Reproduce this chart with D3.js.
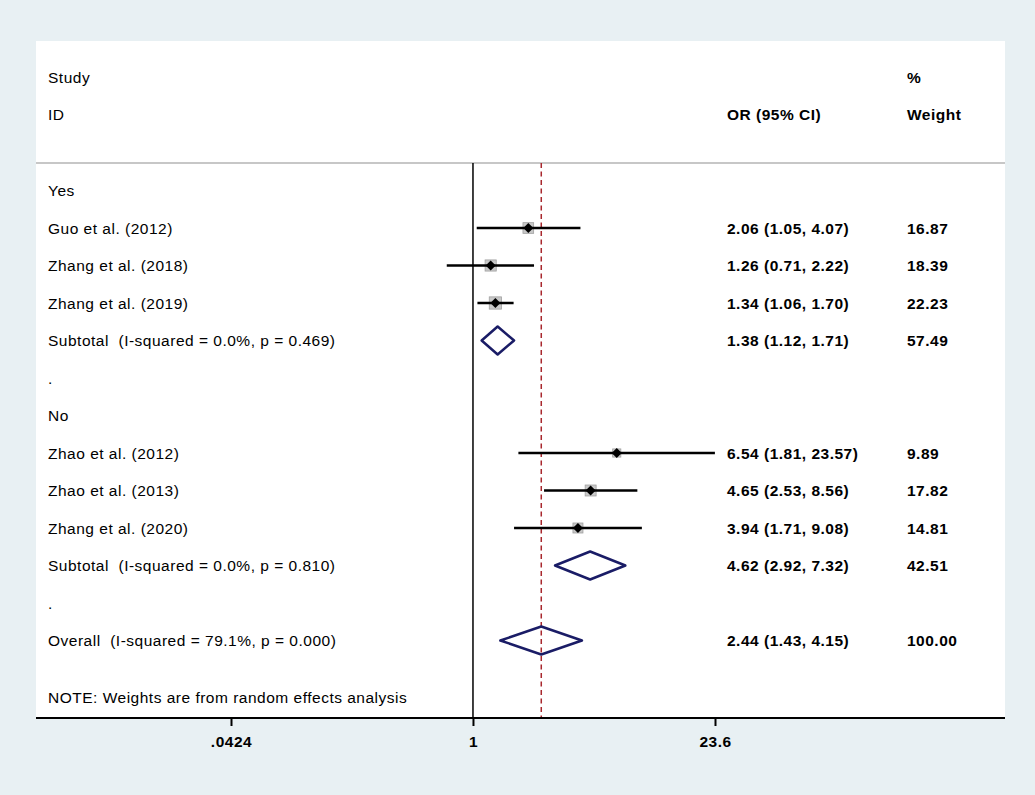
<!DOCTYPE html>
<html><head><meta charset="utf-8">
<script src="https://cdn.jsdelivr.net/npm/d3@7"></script>
<style>body{margin:0;background:#e8f0f3;}svg{display:block;font-family:"Liberation Sans",Arial,sans-serif;}text{white-space:pre;}</style>
</head><body>
<svg id="c" width="1035" height="795"></svg>
<script>
// ---- data ----
const labels = ["Yes","Guo et al. (2012)","Zhang et al. (2018)","Zhang et al. (2019)","Subtotal  (I-squared = 0.0%, p = 0.469)",".","No","Zhao et al. (2012)","Zhao et al. (2013)","Zhang et al. (2020)","Subtotal  (I-squared = 0.0%, p = 0.810)",".","Overall  (I-squared = 79.1%, p = 0.000)"];
const rowTypes = ["group","study","study","study","sub","blank","group","study","study","study","sub","blank","overall"];
const orValues = [null,2.06,1.26,1.34,1.38,null,null,6.54,4.65,3.94,4.62,null,2.44];
const ciLower  = [null,1.05,0.71,1.06,1.12,null,null,1.81,2.53,1.71,2.92,null,1.43];
const ciUpper  = [null,4.07,2.22,1.70,1.71,null,null,23.57,8.56,9.08,7.32,null,4.15];
const weights  = [null,16.87,18.39,22.23,57.49,null,null,9.89,17.82,14.81,42.51,null,100.00];
const tickValues = [0.0424, 1, 23.6];
const tickLabels = [".0424", "1", "23.6"];
const overallOR = 2.44;
const note = "NOTE: Weights are from random effects analysis";

// ---- layout ----
const FS = 15.5, LS = 0.5;
const svg = d3.select("#c");
const panel = {x0:36, x1:1005, y0:41, y1:718};
svg.append("rect").attr("x",panel.x0).attr("y",panel.y0).attr("width",panel.x1-panel.x0).attr("height",panel.y1-panel.y0).attr("fill","#fff");

const x = d3.scaleLog().domain([tickValues[0], tickValues[2]]).range([231, 715]);
const y = d3.scaleLinear().domain([0,1]).range([190.5, 228]); // row index -> center

const sepY = 163;
svg.append("line").attr("x1",panel.x0).attr("x2",panel.x1).attr("y1",sepY).attr("y2",sepY).attr("stroke","#b4b4b4").attr("stroke-width",1.5);

// headers
const hdr = svg.append("g").attr("font-size",FS).attr("letter-spacing",LS).attr("fill","#000");
hdr.append("text").attr("x",48).attr("y",83).text("Study");
hdr.append("text").attr("x",48).attr("y",120).text("ID");
hdr.append("text").attr("x",727).attr("y",120).attr("font-weight","bold").text("OR (95% CI)");
hdr.append("text").attr("x",907).attr("y",83).attr("font-weight","bold").text("%");
hdr.append("text").attr("x",907).attr("y",120).attr("font-weight","bold").text("Weight");

// reference line at 1
svg.append("line").attr("x1",x(1)).attr("x2",x(1)).attr("y1",sepY).attr("y2",panel.y1).attr("stroke","#000").attr("stroke-width",1.5);
// overall dashed line
svg.append("line").attr("x1",x(overallOR)).attr("x2",x(overallOR)).attr("y1",sepY).attr("y2",panel.y1)
  .attr("stroke","#a8282e").attr("stroke-width",1.5).attr("stroke-dasharray","5,3.5");

const rows = labels.map((l,i)=>({label:l,type:rowTypes[i],or:orValues[i],lo:ciLower[i],hi:ciUpper[i],w:weights[i],i}));

// labels
const tg = svg.append("g").attr("font-size",FS).attr("letter-spacing",LS).attr("fill","#000");
tg.selectAll("text.lab").data(rows).join("text").attr("class","lab")
  .attr("x",48).attr("y",d=>y(d.i)+5.5).text(d=>d.label);
const fmt = d3.format(".2f");
const valued = rows.filter(d=>d.or!=null);
tg.selectAll("text.ci").data(valued).join("text").attr("class","ci").attr("font-weight","bold")
  .attr("x",727).attr("y",d=>y(d.i)+5.5).text(d=>`${fmt(d.or)} (${fmt(d.lo)}, ${fmt(d.hi)})`);
tg.selectAll("text.w").data(valued).join("text").attr("class","w").attr("font-weight","bold")
  .attr("x",907).attr("y",d=>y(d.i)+5.5).text(d=>fmt(d.w));
tg.append("text").attr("x",48).attr("y",702.5).text(note);

// studies
const studies = rows.filter(d=>d.type==="study");
const sg = svg.append("g");
sg.selectAll("rect").data(studies).join("rect")
  .attr("x",d=>x(d.or)-2.6*Math.sqrt(d.w)/2).attr("y",d=>y(d.i)-2.6*Math.sqrt(d.w)/2)
  .attr("width",d=>2.6*Math.sqrt(d.w)).attr("height",d=>2.6*Math.sqrt(d.w))
  .attr("fill","#c8c8c8").attr("stroke","#a0a0a0").attr("stroke-width",0.8);
sg.selectAll("line").data(studies).join("line")
  .attr("x1",d=>x(d.lo)).attr("x2",d=>x(d.hi)).attr("y1",d=>y(d.i)).attr("y2",d=>y(d.i))
  .attr("stroke","#000").attr("stroke-width",2.5);
sg.selectAll("path").data(studies).join("path")
  .attr("d",d=>{const cx=x(d.or),cy=y(d.i),r=5;return `M${cx-r},${cy}L${cx},${cy-r}L${cx+r},${cy}L${cx},${cy+r}Z`;})
  .attr("fill","#000");

// diamonds
const pooled = rows.filter(d=>d.type==="sub"||d.type==="overall");
svg.append("g").selectAll("path").data(pooled).join("path")
  .attr("d",d=>{const cy=y(d.i),h=14;return `M${x(d.lo)},${cy}L${x(d.or)},${cy-h}L${x(d.hi)},${cy}L${x(d.or)},${cy+h}Z`;})
  .attr("fill","none").attr("stroke","#1a1c66").attr("stroke-width",2.5).attr("stroke-linejoin","round");

// axis
const ax = svg.append("g").attr("transform",`translate(0,${panel.y1})`);
ax.append("line").attr("x1",panel.x0).attr("x2",panel.x1).attr("y1",0).attr("y2",0).attr("stroke","#000").attr("stroke-width",2);
const axis = d3.axisBottom(x).tickValues(tickValues).tickFormat((d,i)=>tickLabels[i]).tickSize(8).tickPadding(10);
const ag = ax.append("g").call(axis);
ag.select(".domain").remove();
ag.selectAll(".tick line").attr("stroke","#000").attr("stroke-width",2);
ag.selectAll(".tick text").attr("font-size",FS).attr("letter-spacing",LS).attr("font-weight","bold")
  .attr("font-family","Liberation Sans, Arial, sans-serif").attr("fill","#000");
</script>
</body></html>
